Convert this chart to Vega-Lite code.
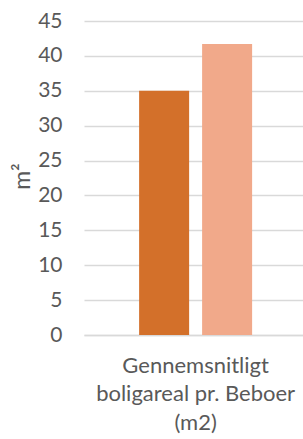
{
  "$schema": "https://vega.github.io/schema/vega-lite/v6.json",
  "width": 219,
  "height": 314,
  "autosize": {"type": "none"},
  "padding": {"left": 84, "top": 21, "right": 0, "bottom": 104},
  "background": "#ffffff",
  "config": {
    "font": "Lato",
    "view": {"stroke": null}
  },
  "data": {
    "values": [
      {"kategori": "Gennemsnitligt|boligareal pr. Beboer|(m2)", "serie": "Serie 1", "m2": 35.0},
      {"kategori": "Gennemsnitligt|boligareal pr. Beboer|(m2)", "serie": "Serie 2", "m2": 41.7}
    ]
  },
  "mark": {"type": "bar"},
  "encoding": {
    "x": {
      "field": "kategori",
      "type": "nominal",
      "scale": {"paddingInner": 0, "paddingOuter": 0.469, "align": 0.52},
      "axis": {
        "title": null,
        "labelExpr": "split(datum.label, '|')",
        "labelAngle": 0,
        "labelFontSize": 22,
        "labelLineHeight": 28.5,
        "labelColor": "#595959",
        "labelPadding": 20,
        "labelLimit": 500,
        "labelOverlap": false,
        "labelBound": false,
        "ticks": false,
        "domain": true,
        "domainColor": "#d9d9d9",
        "domainWidth": 1.3,
        "grid": false
      }
    },
    "xOffset": {
      "field": "serie",
      "type": "nominal",
      "scale": {"paddingInner": 0.206, "paddingOuter": 0}
    },
    "y": {
      "field": "m2",
      "type": "quantitative",
      "scale": {"domain": [0, 45], "nice": false},
      "axis": {
        "title": "m²",
        "titleFontSize": 23,
        "titleFontWeight": "normal",
        "titleColor": "#595959",
        "titleBaseline": "alphabetic",
        "titleX": -55,
        "titleY": 155,
        "values": [0, 5, 10, 15, 20, 25, 30, 35, 40, 45],
        "labelFontSize": 21,
        "labelColor": "#595959",
        "labelPadding": 22,
        "ticks": false,
        "domain": false,
        "grid": true,
        "gridColor": "#d9d9d9",
        "gridWidth": 1.3
      }
    },
    "color": {
      "field": "serie",
      "type": "nominal",
      "scale": {"range": ["#d3702a", "#f1a98a"]},
      "legend": null
    }
  }
}
